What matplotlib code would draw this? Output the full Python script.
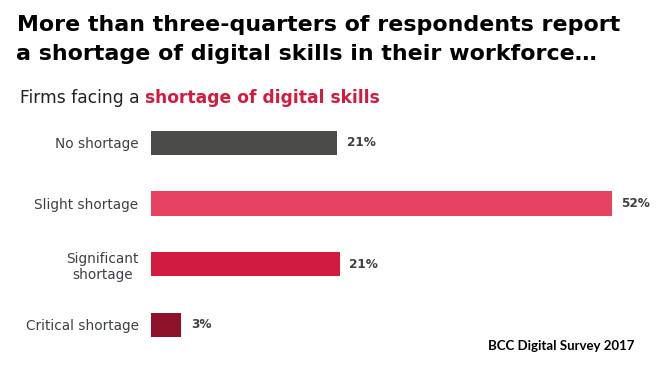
import matplotlib.pyplot as plt

categories = ['No shortage', 'Slight shortage', 'Significant\nshortage', 'Critical shortage']
shares = [21, 52, 21.3, 3.4]
value_labels = ['21%', '52%', '21%', '3%']
bar_colors = ['#4b4b4a', '#e54360', '#d11c40', '#8e1229']

W, H = 657, 365
fig = plt.figure(figsize=(W / 100, H / 100), dpi=100)
ax = fig.add_axes([151 / W, 9.7 / H, 506 / W, 242.7 / H])

ypos = range(len(categories))
ax.barh(ypos, shares, height=0.4, color=bar_colors)
ax.set_xlim(0, 57.1)
ax.set_ylim(3.5, -0.5)

for y, v, lab in zip(ypos, shares, value_labels):
    ax.annotate(lab, xy=(v, y), xytext=(7, 0), textcoords='offset points',
                va='center', ha='left', fontsize=8.7, fontweight='bold',
                color='#404040', annotation_clip=False)

ax.set_yticks(list(ypos))
ax.set_yticklabels(categories, fontsize=9.8, color='#3d4046')
for t in ax.get_yticklabels():
    t.set_multialignment('center')
ax.tick_params(axis='y', length=0, pad=9)
ax.set_xticks([])
for s in ax.spines.values():
    s.set_visible(False)

# title, two lines
fig.text(17 / W, 1 - 31 / H, 'More than three-quarters of respondents report',
         ha='left', va='baseline', fontsize=15.9, fontweight='bold',
         color='black')
fig.text(16 / W, 1 - 60 / H, 'a shortage of digital skills in their workforce\u2026',
         ha='left', va='baseline', fontsize=15.9, fontweight='bold',
         color='black')

t1 = fig.text(20 / W, 1 - 103 / H, 'Firms facing a ', ha='left',
              va='baseline', fontsize=12.3, color='#222222')
ax.annotate('shortage of digital skills', xy=(1, 0), xycoords=t1,
            ha='left', va='bottom', fontsize=12.3, fontweight='bold',
            color='#d11c40', annotation_clip=False)

fig.text(634 / W, 1 - 346 / H, 'BCC Digital Survey 2017', ha='right',
         va='center', fontsize=9.5, fontweight='bold', color='black',
         family='Lato')

plt.savefig('out.png', dpi=100)
plt.close()
